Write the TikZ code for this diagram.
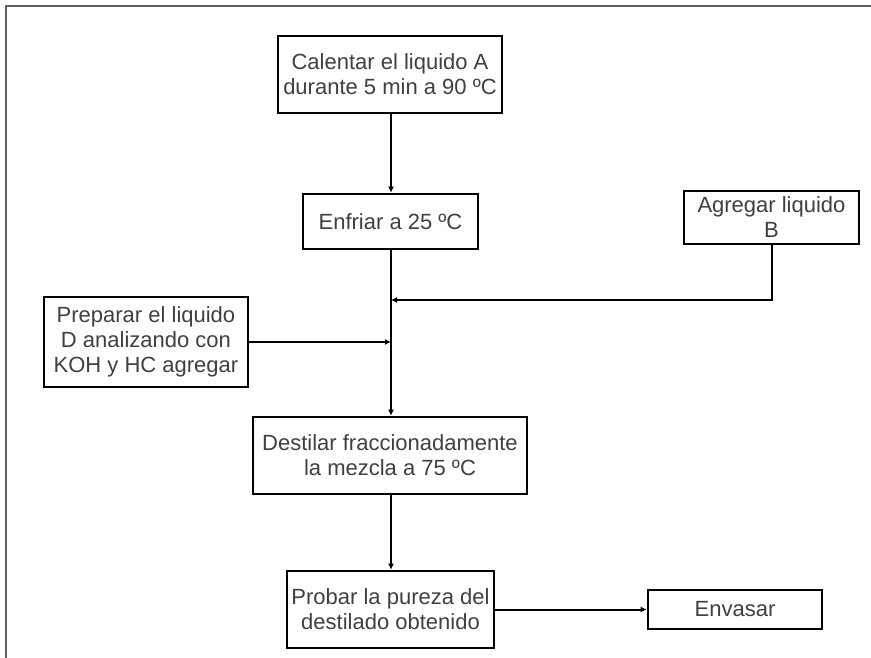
\documentclass[tikz,border=0pt]{standalone}
\usepackage{fontspec}
\setmainfont{Liberation Sans}
\usetikzlibrary{arrows.meta}
\definecolor{txt}{HTML}{404040}
\definecolor{frame}{HTML}{606060}
\begin{document}
\begin{tikzpicture}[x=1pt,y=-1pt,
  box/.style={draw=black,line width=2.6pt,fill=white,inner sep=0pt,align=center,
    text=txt,font=\fontsize{22}{25}\selectfont},
  conn/.style={line width=2pt,draw=black},
  arr/.style={conn,-{Latex[length=6pt,width=6pt]}}]
\useasboundingbox (0,0) rectangle (871,658);
\fill[white] (0,0) rectangle (871,658);
\draw[frame,line width=1.2pt] (6,658) -- (6,6) -- (871,6);
\node[box,minimum width=224pt,minimum height=77pt] (A) at (390,74.5) {Calentar el liquido A\\durante 5 min a 90 ºC};
\node[box,minimum width=175pt,minimum height=55pt] (E) at (390.5,221.5) {Enfriar a 25 ºC};
\node[box,minimum width=175pt,minimum height=53pt] (B) at (771.5,217.5) {Agregar liquido\\B};
\node[box,minimum width=204pt,minimum height=90pt] (D) at (146,342) {Preparar el liquido\\D analizando con\\KOH y HC agregar};
\node[box,minimum width=274pt,minimum height=77pt] (F) at (390,455.5) {Destilar fraccionadamente\\la mezcla a 75 ºC};
\node[box,minimum width=207pt,minimum height=77pt] (P) at (390.5,609.5) {Probar la pureza del\\destilado obtenido};
\node[box,minimum width=174pt,minimum height=39pt] (V) at (735,609.5) {Envasar};
\coordinate (j1) at (391,300);
\coordinate (j2) at (391,342);
\draw[arr] (A.south -| j1) -- (E.north -| j1);
\draw[arr] (E.south -| j1) -- (F.north -| j1);
\draw[arr] (B.south) |- (j1);
\draw[arr] (D.east) -- (j2);
\draw[arr] (F.south -| j1) -- (P.north -| j1);
\draw[arr] (P.east) -- (V.west);
\end{tikzpicture}
\end{document}
